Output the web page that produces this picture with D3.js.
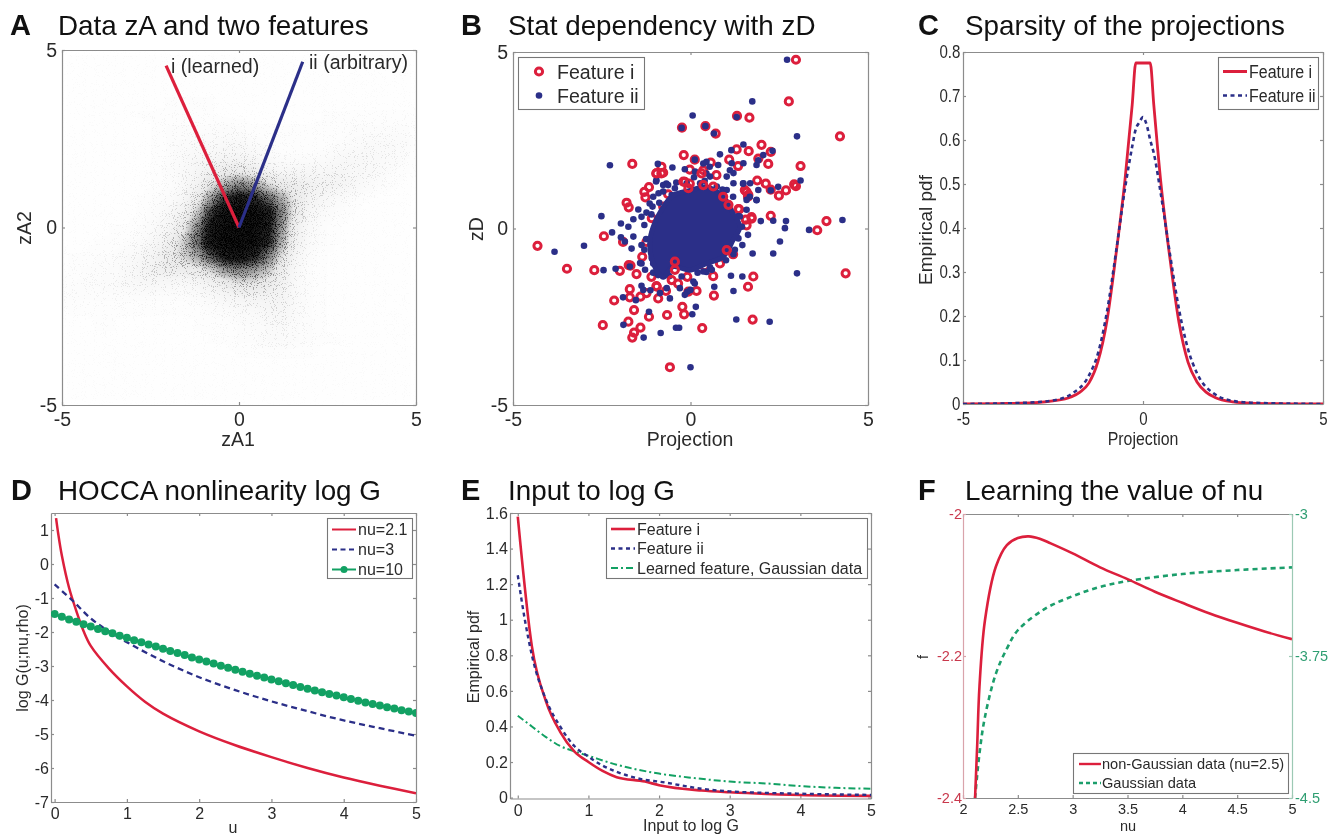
<!DOCTYPE html>
<head>
<meta charset="utf-8">
<title>Six panels</title>
<script src="https://cdn.jsdelivr.net/npm/d3@7/dist/d3.min.js"></script>
<style>
body { margin: 0; background: #fff; }
svg { display: block; filter: blur(0.5px); }
text { font-family: "Liberation Sans", sans-serif; fill: #2a2a2a; }
.domain, .tick line { stroke: #8c8c8c; stroke-width: 1.2; }
</style>
</head>
<body>
<script>
var red = "#dc1f3c", blue = "#2b2f88", green = "#12a163", greenDash = "#1b9e6b";

// A: percent darkness of the point cloud, read by eye, rows from zA2 = 4.8 down to -4.8, cols zA1 = -4.8 to 4.8
var gridA = [-4.8,-4.4,-4,-3.6,-3.2,-2.8,-2.4,-2,-1.6,-1.2,-0.8,-0.4,0,0.4,0.8,1.2,1.6,2,2.4,2.8,3.2,3.6,4,4.4,4.8];
var densityA = [
 [1,1,1,1,1,1,1,1,1,1,1,1,1,1,1,1,1,1,1,1,1,1,1,1,1],
 [1,1,1,1,1,1,1,1,1,1,1,1,1,1,1,1,1,1,1,1,1,1,1,1,1],
 [1,1,1,1,1,1,1,1,1,1,1,1,1,1,1,1,1,1,1,1,1,1,1,1,1],
 [1,1,1,1,1,1,1,2,2,2,2,1,1,1,1,1,1,1,1,1,1,1,1,1,1],
 [1,1,1,1,1,2,2,2,2,2,2,1,1,1,1,1,1,1,2,2,2,2,2,2,2],
 [1,1,1,1,1,1,2,3,3,3,3,4,3,2,2,2,2,2,2,2,3,3,3,3,3],
 [1,1,1,1,1,1,2,3,4,5,5,6,6,4,3,2,2,2,2,3,4,5,5,5,4],
 [1,1,1,1,1,1,2,3,5,7,9,10,10,8,5,3,3,3,4,6,7,7,6,5,3],
 [1,1,1,1,1,1,2,4,6,10,15,20,22,18,12,9,8,8,9,10,9,7,5,3,2],
 [1,1,1,1,1,1,2,3,6,12,25,40,50,45,30,22,18,15,13,12,8,5,3,2,1],
 [1,1,1,1,1,2,3,4,8,20,45,75,85,80,62,42,22,12,8,5,3,2,1,1,1],
 [1,1,1,1,1,2,4,7,14,32,72,95,98,97,88,52,22,9,5,3,2,1,1,1,1],
 [1,1,1,2,2,3,5,10,22,48,85,98,99,98,86,46,16,6,3,2,1,1,1,1,1],
 [1,1,2,2,3,4,8,16,30,55,90,98,99,97,80,40,14,5,3,2,1,1,1,1,1],
 [2,2,3,3,5,7,12,20,30,42,62,86,92,80,55,28,10,4,2,1,1,1,1,1,1],
 [2,3,3,4,6,10,15,18,18,21,30,45,50,45,35,18,7,3,2,1,1,1,1,1,1],
 [3,3,4,5,6,7,8,7,6,8,12,18,25,25,20,14,6,3,2,1,1,1,1,1,1],
 [3,3,3,3,3,3,3,3,3,4,6,8,10,12,12,12,6,3,2,1,1,1,1,1,1],
 [2,2,2,2,2,2,2,2,2,2,3,4,5,5,8,10,5,3,2,1,1,1,1,1,1],
 [1,1,2,2,1,1,1,1,1,2,2,2,3,4,5,6,4,3,2,1,1,1,1,1,1],
 [1,1,1,1,1,1,1,1,1,1,2,2,3,3,5,5,4,3,2,2,1,1,1,1,1],
 [1,1,1,1,1,1,1,1,1,1,1,1,2,2,2,2,2,2,1,1,1,1,1,1,1],
 [1,1,1,1,1,1,1,1,1,1,1,1,1,1,1,1,1,1,1,1,1,1,1,1,1],
 [1,1,1,1,1,1,1,1,1,1,1,1,1,1,1,1,1,1,1,1,1,1,1,1,1],
 [1,1,1,1,1,1,1,1,1,1,1,1,1,1,1,1,1,1,1,1,1,1,1,1,1]
];
var featureI = [[0,0],[-2.06,4.56]];
var featureII = [[0,0],[1.8,4.67]];

// B: outliers, [projection, zD]
var scatterRed = [[2.97,4.78],[2.77,3.6],[1.31,3.19],[1.66,3.14],[-0.24,2.86],[0.42,2.9],[0.71,2.69],[4.21,2.61],[2,2.37],[1.3,2.24],[1.64,2.19],[2.26,2.17],[-0.19,2.08],[0.12,1.95],[1.91,1.98],[-1.64,1.83],[2.19,1.83],[3.1,1.77],[1.34,1.77],[1.09,1.95],[0.57,1.87],[-0.02,1.67],[0.36,1.65],[0.73,1.51],[-0.96,1.56],[-0.77,1.58],[-0.82,1.75],[1.88,1.36],[2.12,1.27],[2.92,1.25],[2.97,1.2],[2.69,1.08],[2.49,0.93],[2.26,1.1],[-1.17,1.17],[-1.3,1.04],[-1.27,0.88],[-0.63,0.97],[-1.8,0.73],[-1.74,0.6],[-0.16,1.32],[-0.02,1.27],[1.58,1.04],[1.62,0.9],[0.97,0.71],[1.37,0.54],[2.26,0.36],[1.56,0.25],[1.72,0.28],[3.83,0.21],[3.57,-0.05],[1.58,0.09],[-2.44,-0.22],[-1.9,-0.38],[-4.31,-0.49],[-3.48,-1.14],[-2.71,-1.18],[-1.99,-1.2],[-1.74,-1.04],[-1.69,-1.05],[-1.52,-1.29],[-1.36,-0.8],[-1.1,-1.37],[-1.24,-0.38],[-0.96,-1.63],[-0.69,-1.77],[-1.41,-1.93],[-1.71,-1.72],[-1.71,-1.95],[-2.15,-2.04],[-0.91,-1.98],[-1.59,-2.31],[-0.66,-2.45],[-0.23,-2.22],[-0.18,-2.43],[-1.17,-2.5],[-2.47,-2.74],[-1.75,-2.64],[-1.41,-2.81],[-1.59,-2.95],[-1.64,-3.09],[0.33,-2.82],[1.75,-2.58],[1.62,-1.65],[1.77,-1.36],[4.37,-1.27],[0.66,-1.9],[0.17,-1.77],[-0.09,-1.37],[-0.35,-1.56],[-0.49,-0.99],[0.4,-1.07],[0.64,-1.35],[0.83,-0.99],[1.2,-0.73],[-0.58,-3.93],[1.53,1.09],[1.63,0.95],[1.35,0.55],[1.72,0.32],[-1.09,0.29],[-0.77,0.62],[-1,-0.94],[-1.24,-1.83],[-0.95,-1.65],[-0.06,-1.79]];
var scatterBlue = [[2.72,4.78],[1.74,3.6],[0.06,3.2],[1.3,3.16],[-0.25,2.85],[0.42,2.9],[0.66,2.69],[3,2.61],[1.49,2.38],[0.12,1.95],[-2.27,1.79],[-0.92,1.83],[-0.51,1.73],[0.83,2.1],[1.15,2.22],[2.31,2.2],[1.91,1.93],[3.1,1.36],[2.47,1.18],[2.26,1.08],[-2.51,0.35],[-1.96,0.14],[-2.21,-0.11],[-1.75,0.05],[-1.96,-0.25],[-3,-0.49],[-3.83,-0.66],[-2.45,-1.18],[-2.11,-1.14],[-1.66,-0.57],[-1.47,0.54],[-1.15,0.71],[-1.38,0.33],[4.28,0.24],[2.69,0.21],[2.66,0.01],[3.34,-0.04],[2.33,0.22],[1.98,0.21],[2.52,-0.37],[2.33,-0.71],[1.75,-0.71],[1.46,-0.47],[1.62,-0.18],[3,-1.27],[1.14,-1.34],[1.46,-1.36],[0.67,-1.65],[1.21,-1.77],[0.15,-2.22],[0.05,-2.43],[-1.17,-2.36],[1.29,-2.58],[2.23,-2.64],[-1.89,-2.73],[-0.41,-2.81],[-0.32,-2.81],[-0.84,-2.96],[-1.32,-3.09],[0,-3.93],[-1.9,-1.95],[-1.54,-2.03],[-1.38,-1.62],[-1.13,-1.75],[-0.58,-1.98],[0.12,-1.56],[-0.09,-1.79],[0.45,-1.23],[-0.91,-1.32],[-1.38,-0.99],[-1.05,-0.99],[-1.71,-1.08],[-0.96,1.37],[-0.68,1.27],[1.48,1.27],[1.86,0.8],[1.67,0.9],[1.11,1.65],[0.54,1.75],[0.36,1.84],[-1.3,0.1],[-1.25,-0.3],[-1.3,-0.6],[-1.1,0.4],[1.35,0.35],[1.45,0.05],[1.3,-0.25],[1.25,-0.6],[1,-0.9],[0.9,1.1],[1.2,0.9],[0.4,1.35],[0.1,1.45],[-0.4,1.3],[-0.9,1],[-1.05,-1.25],[-0.6,-1.35],[0.2,-1.25],[0.55,-1.1],
 [-0.97,1.33],[-0.77,1.23],[-0.63,1.23],[-0.44,1.14],[-0.16,1.68],[0.45,1.89],[0.13,1.61],[0.27,1.28],[0.55,1.47],[1.16,1.85],[1.49,1.85],[1.21,1.57],[1.21,1.28],[1.49,1.28],[1.68,1.28],[1.91,1.09],[1.86,0.81],[1.58,0.81],[0.74,1.19],[1.02,1.47],[2.05,2.08],[1.86,1.8],[-0.88,0.73],[-1.07,0.62],[-1.24,0.45],[-1.61,0.26],[-0.3,0.95],[-0.53,0.95],[-0.77,1.05],[-1.05,0.9],[1.58,0.53],[1.39,0.34],[0.78,1.8],[0.45,1.56],[-0.11,1.28],[0.27,1],[1.02,1.09],
 [-1.61,-0.23],[-1.85,-0.37],[-1.38,-0.47],[-1.09,-0.84],[-1.42,-0.98],[-1.28,-1.17],[-0.91,-1.22],[-0.77,-1.36],[-0.25,-1.36],[0.08,-1.13],[0.36,-1.22],[0.6,-1.17],[0.08,-1.5],[-0.3,-1.69],[-0.67,-1.69],[-0.86,-1.83],[-0.16,-1.88],[0,-1.74],[-1.33,-1.74],[1.21,-0.73],[-1.05,-0.7],[1.35,-0.28]];
// rings that show over the blue mass
var scatterRedTop = [[-0.44,-0.94],[-0.44,-1.17],[-0.53,-1.46],[0.31,1.56],[0.64,1.19],[0.92,0.9],[1.02,-0.61],[1.07,0.67],[-0.06,1.14],[0.36,1.23],[-0.96,1.56],[-0.82,1.56],[-0.2,1.33]];
// outline of the solid overplotted core of panel B
var coreOutline = [[0,1.08],[0.45,1.18],[0.92,0.9],[1.2,0.42],[1.39,0.05],[1.2,-0.33],[0.92,-0.8],[0.45,-0.99],[-0.02,-1.18],[-0.49,-1.08],[-0.77,-1.37],[-1.05,-0.99],[-1.15,-0.42],[-1.05,0.05],[-0.82,0.52],[-0.49,0.94]];

// C
var projRed = [-5,-4,-3,-2.5,-2,-1.75,-1.5,-1.25,-1,-0.75,-0.5,-0.3,-0.2,0.2,0.3,0.5,0.75,1,1.25,1.5,1.75,2,2.5,3,4,5];
var pdfRed = [0,0.001,0.003,0.007,0.016,0.027,0.048,0.097,0.19,0.34,0.51,0.68,0.775,0.775,0.68,0.5,0.33,0.185,0.095,0.05,0.027,0.015,0.005,0.002,0.0005,0];
var projBlue = [-5,-4,-3,-2.5,-2,-1.5,-1.25,-1,-0.75,-0.5,-0.3,-0.2,-0.1,0,0.1,0.2,0.3,0.5,0.75,1,1.25,1.5,2,2.5,3,4,5];
var pdfBlue = [0,0.001,0.004,0.008,0.022,0.065,0.115,0.21,0.345,0.49,0.585,0.625,0.64,0.652,0.635,0.6,0.57,0.475,0.34,0.215,0.125,0.07,0.022,0.007,0.003,0.001,0];

// D
var uRed = [0.02,0.05,0.1,0.2,0.3,0.4,0.5,0.75,1,1.25,1.5,2,2.5,3,3.5,4,4.5,5];
var logRed = [1.35,0.89,0.25,-0.7,-1.38,-1.97,-2.41,-3.07,-3.6,-4.05,-4.4,-4.92,-5.33,-5.68,-6,-6.28,-6.52,-6.74];
var uBlue = [0,0.25,0.5,0.75,1,1.5,2,2.5,3,3.5,4,4.5,5];
var logBlue = [-0.6,-1.08,-1.6,-1.98,-2.3,-2.86,-3.33,-3.71,-4.04,-4.33,-4.6,-4.83,-5.05];
var uGreen = [0,0.1,0.2,0.3,0.4,0.5,0.6,0.7,0.8,0.9,1,1.1,1.2,1.3,1.4,1.5,1.6,1.7,1.8,1.9,2,2.1,2.2,2.3,2.4,2.5,2.6,2.7,2.8,2.9,3,3.1,3.2,3.3,3.4,3.5,3.6,3.7,3.8,3.9,4,4.1,4.2,4.3,4.4,4.5,4.6,4.7,4.8,4.9,5];
var logGreen = [-1.47,-1.55,-1.63,-1.7,-1.77,-1.84,-1.91,-1.98,-2.04,-2.11,-2.17,-2.24,-2.3,-2.37,-2.43,-2.49,-2.56,-2.62,-2.68,-2.75,-2.81,-2.87,-2.93,-2.99,-3.05,-3.11,-3.17,-3.23,-3.29,-3.34,-3.4,-3.45,-3.51,-3.56,-3.62,-3.67,-3.72,-3.77,-3.82,-3.87,-3.92,-3.97,-4.02,-4.07,-4.12,-4.16,-4.21,-4.25,-4.3,-4.34,-4.38];

// E
var inRed = [0,0.2,0.4,0.6,0.8,1,1.2,1.4,1.8,2,2.6,3,4,5];
var eRed = [1.58,0.85,0.54,0.37,0.26,0.2,0.15,0.115,0.09,0.07,0.04,0.03,0.015,0.01];
var inBlue = [0,0.1,0.2,0.4,0.6,0.8,1,1.2,1.4,1.8,2,2.6,3,4,5];
var eBlue = [1.25,1,0.8,0.55,0.4,0.29,0.23,0.18,0.145,0.1,0.09,0.05,0.035,0.022,0.015];
var inGreen = [0,0.2,0.4,0.6,0.8,1,1.4,2,2.5,3,3.5,4,4.5,5];
var eGreen = [0.46,0.4,0.34,0.29,0.26,0.235,0.185,0.135,0.11,0.09,0.08,0.065,0.055,0.05];

// F
var nuRed = [2.11,2.13,2.15,2.2,2.3,2.4,2.5,2.6,2.7,2.8,3,3.25,3.5,3.75,4,4.25,4.5,4.75,5];
var fRed = [-2.4,-2.3235,-2.2435,-2.15,-2.074,-2.0437,-2.0338,-2.0315,-2.0348,-2.0414,-2.0555,-2.0752,-2.0917,-2.1095,-2.1251,-2.1401,-2.1533,-2.1655,-2.1763];
var nuGreen = [2.11,2.15,2.2,2.3,2.4,2.5,2.75,3,3.25,3.5,4,4.5,5];
var fGreen = [-4.5,-4.266,-4.072,-3.843,-3.711,-3.614,-3.5,-3.434,-3.385,-3.354,-3.317,-3.296,-3.282];

var svg = d3.select("body").append("svg").attr("width", 1339).attr("height", 837);
var defs = svg.append("defs");

// turns the blurred density grid into a stipple texture over a soft grey underlay
var stipple = defs.append("filter").attr("id", "stipple").attr("x", 0).attr("y", 0).attr("width", 1).attr("height", 1)
	.attr("color-interpolation-filters", "sRGB");
stipple.append("feGaussianBlur").attr("in", "SourceGraphic").attr("stdDeviation", 5).attr("result", "soft");
stipple.append("feTurbulence").attr("type", "fractalNoise").attr("baseFrequency", 1.1).attr("numOctaves", 1).attr("seed", 4);
stipple.append("feColorMatrix").attr("type", "matrix").attr("values", "0 0 0 0 0  0 0 0 0 0  0 0 0 0 0  3.4 0 0 0 -1.2").attr("result", "grain");
stipple.append("feComposite").attr("in", "soft").attr("in2", "grain").attr("operator", "arithmetic")
	.attr("k1", 0).attr("k2", 1).attr("k3", 1).attr("k4", -1).attr("result", "mix");
var hard = stipple.append("feComponentTransfer").attr("in", "mix").attr("result", "dots");
hard.append("feFuncA").attr("type", "linear").attr("slope", 1.4).attr("intercept", 0);
var under = stipple.append("feComponentTransfer").attr("in", "soft").attr("result", "under");
under.append("feFuncA").attr("type", "table").attr("tableValues", "0 0.1 0.5 0.88 1");
var merge = stipple.append("feMerge");
merge.append("feMergeNode").attr("in", "under");
merge.append("feMergeNode").attr("in", "dots");

function squeezed(sel, x, y, s) {
	return sel.attr("transform", "translate(" + x + "," + y + ") scale(" + s + ",1)");
}

function panel(o) {
	var x = d3.scaleLinear().domain(o.xDomain).range(o.xRange);
	var y = d3.scaleLinear().domain(o.yDomain).range(o.yRange);
	var g = svg.append("g");
	var fmt = function(d) { return String(d); };
	var bottom = o.yRange[0], top = o.yRange[1], left = o.xRange[0], right = o.xRange[1];
	var squeeze = o.squeeze || 1;

	g.append("g").attr("transform", "translate(0," + bottom + ")")
		.call(d3.axisBottom(x).tickValues(o.xTicks).tickFormat(fmt).tickSizeInner(-3).tickSizeOuter(0).tickPadding(o.xPad));
	g.append("g").attr("transform", "translate(0," + top + ")")
		.call(d3.axisTop(x).tickValues(o.xTicks).tickFormat("").tickSizeInner(-3).tickSizeOuter(0));
	g.append("g").attr("class", "left").attr("transform", "translate(" + left + ",0)")
		.call(d3.axisLeft(y).tickValues(o.yTicks).tickFormat(fmt).tickSizeInner(-3).tickSizeOuter(0).tickPadding(o.yPad));
	if (!o.noRight) {
		g.append("g").attr("transform", "translate(" + right + ",0)")
			.call(d3.axisRight(y).tickValues(o.yTicks).tickFormat("").tickSizeInner(-3).tickSizeOuter(0));
	}
	g.selectAll("text").style("font-family", "'Liberation Sans', sans-serif").style("fill", "#2a2a2a")
		.style("font-size", o.font + "px").attr("transform", "scale(" + squeeze + ",1)");

	var clipId = "clip" + o.letter;
	defs.append("clipPath").attr("id", clipId).append("rect")
		.attr("x", left).attr("y", top).attr("width", right - left).attr("height", bottom - top);
	var plot = svg.append("g").attr("clip-path", "url(#" + clipId + ")");

	svg.append("text").attr("x", o.letterX).attr("y", o.titleY).style("font-size", "29px").style("font-weight", "bold").style("fill", "#111").text(o.letter);
	svg.append("text").attr("x", o.titleX).attr("y", o.titleY).style("font-size", "27.8px").style("fill", "#111").text(o.title);
	squeezed(svg.append("text").attr("text-anchor", "middle").style("font-size", (o.xLabelFont || o.labelFont) + "px").text(o.xLabel[0]), o.xLabel[1], o.xLabel[2], squeeze);
	svg.append("text").attr("transform", "translate(" + o.yLabel[1] + "," + o.yLabel[2] + ") rotate(-90)").attr("text-anchor", "middle").style("font-size", o.labelFont + "px").text(o.yLabel[0]);

	return { x: x, y: y, plot: plot, g: g };
}

function curve(p, xs, ys, color, width, dash, yScale, interp) {
	var line = d3.line().x(function(d) { return p.x(d); })
		.y(function(d, i) { return (yScale || p.y)(ys[i]); })
		.curve(interp || d3.curveMonotoneX);
	return p.plot.append("path").datum(xs).attr("d", line)
		.attr("fill", "none").attr("stroke", color).attr("stroke-width", width)
		.attr("stroke-dasharray", dash || null);
}

function legend(box, rows) {
	var g = svg.append("g");
	g.append("rect").attr("x", box.x).attr("y", box.y).attr("width", box.w).attr("height", box.h)
		.attr("fill", "#fff").attr("stroke", "#777").attr("stroke-width", 1.1);
	rows.forEach(function(r, i) {
		var yy = box.y + box.first + i * box.step;
		if (r.kind == "ring") {
			g.append("circle").attr("cx", box.lineX + 10).attr("cy", yy).attr("r", 3.6).attr("fill", "none").attr("stroke", r.color).attr("stroke-width", 3);
		} else if (r.kind == "dot") {
			g.append("circle").attr("cx", box.lineX + 10).attr("cy", yy).attr("r", 3.3).attr("fill", r.color);
		} else {
			g.append("line").attr("x1", box.lineX).attr("x2", box.lineX + box.lineW).attr("y1", yy).attr("y2", yy)
				.attr("stroke", r.color).attr("stroke-width", r.width).attr("stroke-dasharray", r.dash || null);
			if (r.kind == "marker") {
				g.append("circle").attr("cx", box.lineX + box.lineW / 2).attr("cy", yy).attr("r", 3.5).attr("fill", r.color);
			}
		}
		squeezed(g.append("text").style("font-size", box.font + "px").text(r.label), box.textX, yy + box.font * 0.36, box.squeeze || 1);
	});
}

// ---- A
var pA = panel({ letter: "A", letterX: 10, titleX: 58, titleY: 35, title: "Data zA and two features",
	xDomain: [-5, 5], xRange: [62, 416], yDomain: [-5, 5], yRange: [405, 50],
	xTicks: [-5, 0, 5], yTicks: [-5, 0, 5], font: 19.5, labelFont: 19.5, xPad: 7, yPad: 5,
	xLabel: ["zA1", 238, 446], yLabel: ["zA2", 31, 228] });
var cloud = pA.plot.append("g").attr("filter", "url(#stipple)");
densityA.forEach(function(row, r) {
	var yc = gridA[gridA.length - 1 - r];
	row.forEach(function(v, c) {
		var xc = gridA[c];
		cloud.append("rect")
			.attr("x", pA.x(xc - 0.2)).attr("y", pA.y(yc + 0.2))
			.attr("width", pA.x(0.4) - pA.x(0)).attr("height", pA.y(0) - pA.y(0.4))
			.attr("fill", "#111").attr("fill-opacity", v / 100);
	});
});
[[featureI, red], [featureII, blue]].forEach(function(f) {
	pA.plot.append("line").attr("x1", pA.x(f[0][0][0])).attr("y1", pA.y(f[0][0][1]))
		.attr("x2", pA.x(f[0][1][0])).attr("y2", pA.y(f[0][1][1]))
		.attr("stroke", f[1]).attr("stroke-width", 3.2);
});
svg.append("text").attr("x", 171).attr("y", 73).style("font-size", "19.6px").text("i (learned)");
svg.append("text").attr("x", 309).attr("y", 69).style("font-size", "19.6px").text("ii (arbitrary)");

// ---- B
var pB = panel({ letter: "B", letterX: 461, titleX: 508, titleY: 35, title: "Stat dependency with zD",
	xDomain: [-5, 5], xRange: [513, 868], yDomain: [-5, 5], yRange: [405, 52],
	xTicks: [-5, 0, 5], yTicks: [-5, 0, 5], font: 19.5, labelFont: 19.5, xPad: 7, yPad: 5,
	xLabel: ["Projection", 690, 446], yLabel: ["zD", 483, 229] });
function rings(list) {
	pB.plot.append("g").selectAll("circle").data(list).enter().append("circle")
		.attr("cx", function(d) { return pB.x(d[0]); }).attr("cy", function(d) { return pB.y(d[1]); })
		.attr("r", 3.6).attr("fill", "none").attr("stroke", red).attr("stroke-width", 3);
}
rings(scatterRed);
pB.plot.append("g").selectAll("circle").data(scatterBlue).enter().append("circle")
	.attr("cx", function(d) { return pB.x(d[0]); }).attr("cy", function(d) { return pB.y(d[1]); })
	.attr("r", 3.3).attr("fill", blue);
pB.plot.append("path").datum(coreOutline)
	.attr("d", d3.line().x(function(d) { return pB.x(d[0]); }).y(function(d) { return pB.y(d[1]); }).curve(d3.curveCatmullRomClosed))
	.attr("fill", blue).attr("stroke", blue).attr("stroke-width", 5);
rings(scatterRedTop);
legend({ x: 518.5, y: 57.5, w: 126, h: 52, first: 14, step: 24, lineX: 529, lineW: 20, textX: 557, font: 19.6 }, [
	{ kind: "ring", color: red, label: "Feature i" },
	{ kind: "dot", color: blue, label: "Feature ii" }
]);

// ---- C
var pC = panel({ letter: "C", letterX: 918, titleX: 965, titleY: 35, title: "Sparsity of the projections",
	xDomain: [-5, 5], xRange: [963, 1323], yDomain: [0, 0.8], yRange: [404, 52],
	xTicks: [-5, 0, 5], yTicks: [0, 0.1, 0.2, 0.3, 0.4, 0.5, 0.6, 0.7, 0.8], font: 17.5, labelFont: 19, xLabelFont: 18.5, squeeze: 0.86, xPad: 9, yPad: 3,
	xLabel: ["Projection", 1143, 445], yLabel: ["Empirical pdf", 932, 230] });
curve(pC, projRed, pdfRed, red, 2.8);
curve(pC, projBlue, pdfBlue, blue, 2.6, "4,3.5");
legend({ x: 1218.5, y: 57.5, w: 100, h: 52, first: 14, step: 24, lineX: 1223, lineW: 24, textX: 1249, font: 18.5, squeeze: 0.865 }, [
	{ kind: "line", color: red, width: 3, label: "Feature i" },
	{ kind: "line", color: blue, width: 2.6, dash: "4,3.5", label: "Feature ii" }
]);

// ---- D
var pD = panel({ letter: "D", letterX: 11, titleX: 58, titleY: 500, title: "HOCCA nonlinearity log G",
	xDomain: [-0.05, 5], xRange: [51, 416], yDomain: [-7, 1.5], yRange: [802, 513],
	xTicks: [0, 1, 2, 3, 4, 5], yTicks: [-7, -6, -5, -4, -3, -2, -1, 0, 1], font: 16, labelFont: 16, xPad: 6, yPad: 2,
	xLabel: ["u", 233, 833], yLabel: ["log G(u;nu,rho)", 28, 658] });
curve(pD, uRed, logRed, red, 2.5, null, null, d3.curveCatmullRom);
curve(pD, uBlue, logBlue, blue, 2.3, "6,4", null, d3.curveCatmullRom);
curve(pD, uGreen, logGreen, green, 2.2);
pD.plot.append("g").selectAll("circle").data(uGreen).enter().append("circle")
	.attr("cx", function(d) { return pD.x(d); }).attr("cy", function(d, i) { return pD.y(logGreen[i]); })
	.attr("r", 4).attr("fill", green);
legend({ x: 327.5, y: 518.5, w: 85, h: 60, first: 11, step: 20, lineX: 332, lineW: 24, textX: 358, font: 16 }, [
	{ kind: "line", color: red, width: 2, label: "nu=2.1" },
	{ kind: "line", color: blue, width: 2, dash: "5,3.5", label: "nu=3" },
	{ kind: "marker", color: green, width: 2, label: "nu=10" }
]);

// ---- E
var pE = panel({ letter: "E", letterX: 461, titleX: 508, titleY: 500, title: "Input to log G",
	xDomain: [-0.11, 5], xRange: [510, 871], yDomain: [-0.005, 1.6], yRange: [798.5, 513],
	xTicks: [0, 1, 2, 3, 4, 5], yTicks: [0, 0.2, 0.4, 0.6, 0.8, 1, 1.2, 1.4, 1.6], font: 16, labelFont: 16, xPad: 6, yPad: 2,
	xLabel: ["Input to log G", 691, 831], yLabel: ["Empirical pdf", 479, 657] });
curve(pE, inGreen, eGreen, green, 2, "7,3,2,3");
curve(pE, inRed, eRed, red, 2.6);
curve(pE, inBlue, eBlue, blue, 2.4, "4,3.5");
legend({ x: 606.5, y: 518.5, w: 261, h: 60, first: 10.5, step: 19.5, lineX: 611, lineW: 24, textX: 637, font: 16 }, [
	{ kind: "line", color: red, width: 2.6, label: "Feature i" },
	{ kind: "line", color: blue, width: 2.4, dash: "4,3.5", label: "Feature ii" },
	{ kind: "line", color: green, width: 2, dash: "7,3,2,3", label: "Learned feature, Gaussian data" }
]);

// ---- F
var pF = panel({ letter: "F", letterX: 918, titleX: 965, titleY: 500, title: "Learning the value of nu",
	xDomain: [2, 5], xRange: [963, 1292], yDomain: [-2.4, -2], yRange: [798, 514],
	xTicks: [2, 2.5, 3, 3.5, 4, 4.5, 5], yTicks: [-2.4, -2.2, -2], font: 14.5, labelFont: 14.5, xPad: 6, yPad: 1, noRight: true,
	xLabel: ["nu", 1128, 831], yLabel: ["f", 928, 657] });
pF.g.selectAll(".left text").style("fill", "#c9384c");
pF.g.selectAll(".left .domain, .left .tick line").style("stroke", "#d9a3ab");
var yRight = d3.scaleLinear().domain([-4.5, -3]).range([798, 514]);
var rightAxis = svg.append("g").attr("transform", "translate(1292,0)")
	.call(d3.axisRight(yRight).tickValues([-4.5, -3.75, -3]).tickFormat(function(d) { return String(d); }).tickSizeInner(-3).tickSizeOuter(0).tickPadding(3));
rightAxis.selectAll("text").style("font-family", "'Liberation Sans', sans-serif").style("font-size", "14.5px").style("fill", "#2f9e72");
rightAxis.selectAll(".domain, .tick line").style("stroke", "#9cc9b4");
curve(pF, nuGreen, fGreen, greenDash, 2.6, "5,4", yRight, d3.curveCatmullRom);
curve(pF, nuRed, fRed, red, 2.6, null, null, d3.curveCatmullRom);
legend({ x: 1073.5, y: 753.5, w: 215, h: 40, first: 10.5, step: 19, lineX: 1079, lineW: 22, textX: 1102, font: 14.6 }, [
	{ kind: "line", color: red, width: 2.4, label: "non-Gaussian data (nu=2.5)" },
	{ kind: "line", color: greenDash, width: 2.4, dash: "4,3", label: "Gaussian data" }
]);
</script>
</body>
